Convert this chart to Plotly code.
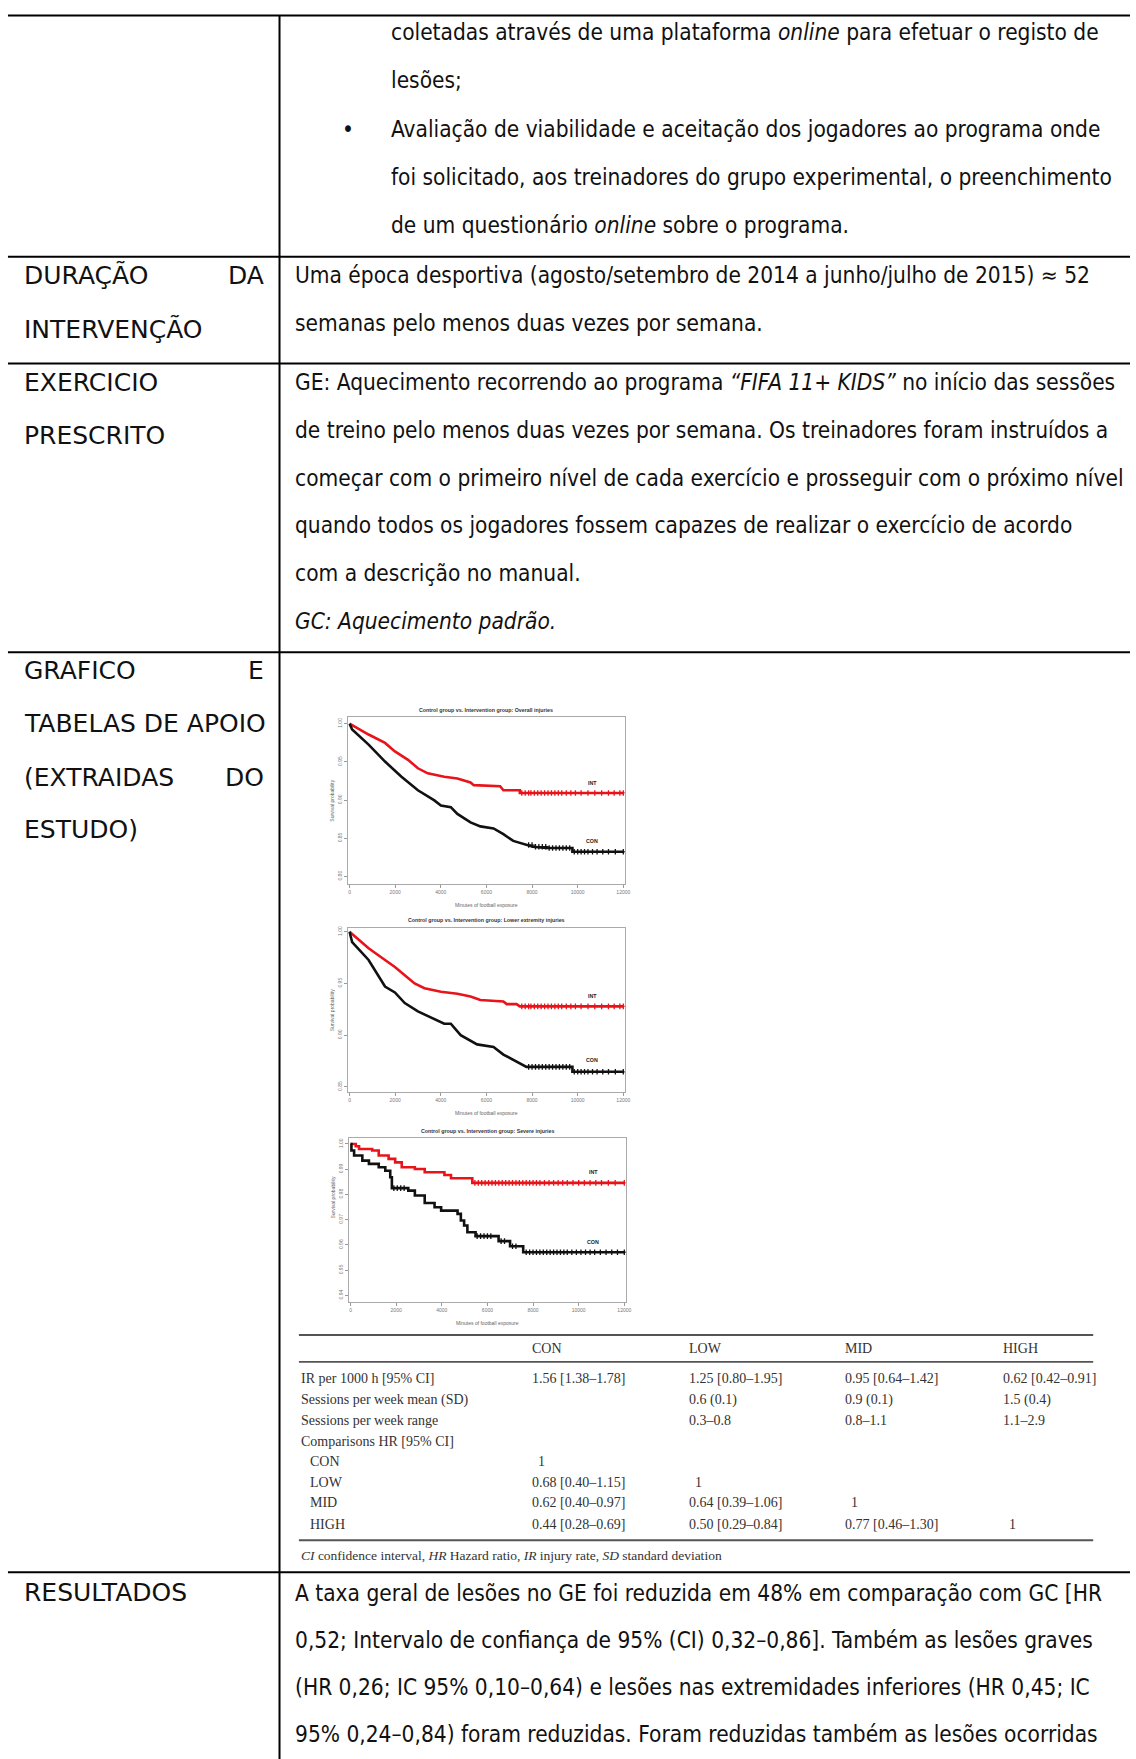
import plotly.graph_objects as go

W, H = 1136, 1759

# ---------------- Kaplan-Meier survival data ----------------
# time = minutes of football exposure, surv = survival probability
overall_con_t = [0, 115, 836, 1556, 2277, 2997, 3718, 4006, 4439, 4727, 5303, 5735, 6312, 6744, 7176, 7753, 8041, 8617, 9770, 9770, 12000]
overall_con_s = [1.0, 0.9925, 0.9726, 0.9504, 0.9305, 0.9128, 0.8996, 0.8929, 0.8907, 0.8819, 0.8708, 0.8655, 0.8628, 0.8553, 0.8465, 0.8411, 0.8389, 0.8372, 0.8372, 0.8323, 0.8323]
overall_int_t = [0, 836, 1556, 1989, 2565, 2997, 3430, 4150, 4727, 5303, 5447, 6600, 6744, 7464, 7464, 12000]
overall_int_s = [1.0, 0.9858, 0.9748, 0.9637, 0.9527, 0.9416, 0.9350, 0.9305, 0.9283, 0.9230, 0.9195, 0.9181, 0.9128, 0.9128, 0.9093, 0.9093]

lower_con_t = [0, 115, 836, 1556, 1989, 2421, 2997, 3718, 4150, 4439, 4871, 5591, 6312, 6744, 7176, 7753, 9770, 9770, 12000]
lower_con_s = [1.0, 0.990, 0.9727, 0.947, 0.9413, 0.931, 0.923, 0.9156, 0.911, 0.911, 0.900, 0.891, 0.8886, 0.8812, 0.8758, 0.8693, 0.8693, 0.8645, 0.8645]
lower_int_t = [0, 836, 1556, 1989, 2421, 2853, 3285, 4006, 4727, 5303, 5735, 6744, 6888, 7320, 7464, 12000]
lower_int_s = [1.0, 0.984, 0.9727, 0.966, 0.958, 0.950, 0.9454, 0.942, 0.940, 0.9374, 0.934, 0.9326, 0.930, 0.930, 0.9278, 0.9278]

severe_con_t = [0, 40, 158, 518, 806, 1237, 1525, 1741, 1813, 2533, 2820, 3252, 3684, 3972, 4691, 4835, 4979, 5122, 5482, 6490, 6993, 7569, 12000]
severe_con_s = [1.0, 0.9974, 0.9954, 0.9934, 0.9921, 0.9908, 0.9894, 0.9868, 0.9825, 0.9815, 0.9796, 0.9766, 0.9749, 0.9736, 0.9723, 0.9697, 0.9677, 0.9650, 0.9635, 0.9615, 0.9595, 0.9571, 0.9571]
severe_int_t = [0, 230, 374, 950, 1237, 1669, 1957, 2245, 2820, 3252, 4115, 4403, 5338, 12000]
severe_int_s = [1.0, 0.9991, 0.998, 0.9974, 0.9954, 0.9941, 0.9927, 0.9908, 0.9901, 0.9888, 0.9877, 0.9864, 0.9846, 0.9846]

# censoring times (minutes)
overall_con_cens = [7850, 8000, 8150, 8300, 8450, 8600, 8750, 8900, 9050, 9200, 9350, 9500, 9650, 9850, 10000, 10150, 10300, 10450, 10650, 10850, 11100, 11350, 11650, 12000]
overall_int_cens = [7550, 7700, 7850, 7950, 8100, 8250, 8400, 8550, 8700, 8850, 9000, 9150, 9300, 9500, 9700, 9900, 10150, 10450, 10750, 11050, 11350, 11600, 11850, 12000]
lower_con_cens = [7850, 8000, 8150, 8300, 8450, 8600, 8750, 8900, 9050, 9200, 9350, 9500, 9650, 9850, 10000, 10150, 10300, 10450, 10650, 10850, 11100, 11350, 11650, 12000]
lower_int_cens = [7550, 7700, 7850, 7950, 8100, 8250, 8400, 8550, 8700, 8850, 9000, 9150, 9300, 9500, 9700, 9900, 10150, 10450, 10750, 11050, 11350, 11600, 11850, 12000]
severe_con_cens = [1900, 2050, 2200, 2350, 5550, 5700, 5850, 6000, 6150, 6600, 6750, 7100, 7250, 7700, 7850, 8000, 8150, 8300, 8450, 8600, 8750, 8900, 9050, 9200, 9350, 9500, 9700, 9900, 10100, 10300, 10500, 10700, 10950, 11200, 11450, 11700, 12000]
severe_int_cens = [5450, 5600, 5750, 5900, 6050, 6200, 6350, 6500, 6650, 6800, 6950, 7100, 7250, 7400, 7550, 7700, 7850, 8000, 8150, 8300, 8500, 8700, 8900, 9100, 9300, 9500, 9750, 10000, 10250, 10500, 10750, 11000, 11300, 11600, 12000]

x_ticks = [0, 2000, 4000, 6000, 8000, 10000, 12000]
overall_yticks = [0.80, 0.85, 0.90, 0.95, 1.00]
lower_yticks = [0.85, 0.90, 0.95, 1.00]
severe_yticks = [0.94, 0.95, 0.96, 0.97, 0.98, 0.99, 1.00]

panel_titles = [
    "Control group vs. Intervention group: Overall injuries",
    "Control group vs. Intervention group: Lower extremity injuries",
    "Control group vs. Intervention group: Severe injuries",
]

# ---------------- Summary table ----------------
tbl_cols = ["CON", "LOW", "MID", "HIGH"]
tbl_rows = ["IR per 1000 h [95% CI]", "Sessions per week mean (SD)", "Sessions per week range",
            "Comparisons HR [95% CI]", "CON", "LOW", "MID", "HIGH"]
tbl_con = ["1.56 [1.38\u20131.78]", "", "", "", "1", "0.68 [0.40\u20131.15]", "0.62 [0.40\u20130.97]", "0.44 [0.28\u20130.69]"]
tbl_low = ["1.25 [0.80\u20131.95]", "0.6 (0.1)", "0.3\u20130.8", "", "", "1", "0.64 [0.39\u20131.06]", "0.50 [0.29\u20130.84]"]
tbl_mid = ["0.95 [0.64\u20131.42]", "0.9 (0.1)", "0.8\u20131.1", "", "", "", "1", "0.77 [0.46\u20131.30]"]
tbl_high = ["0.62 [0.42\u20130.91]", "1.5 (0.4)", "1.1\u20132.9", "", "", "", "", "1"]
tbl_note = "<i>CI</i> confidence interval, <i>HR</i> Hazard ratio, <i>IR</i> injury rate, <i>SD</i> standard deviation"

# ---------------- Document text ----------------
row0_right = [
    "coletadas através de uma plataforma <i>online</i> para efetuar o registo de",
    "lesões;",
    "Avaliação de viabilidade e aceitação dos jogadores ao programa onde",
    "foi solicitado, aos treinadores do grupo experimental, o preenchimento",
    "de um questionário <i>online</i> sobre o programa.",
]
dur_right = [
    "Uma época desportiva (agosto/setembro de 2014 a junho/julho de 2015) \u2248 52",
    "semanas pelo menos duas vezes por semana.",
]
ex_right = [
    "GE: Aquecimento recorrendo ao programa <i>\u201cFIFA 11+ KIDS\u201d</i> no início das sessões",
    "de treino pelo menos duas vezes por semana. Os treinadores foram instruídos a",
    "começar com o primeiro nível de cada exercício e prosseguir com o próximo nível",
    "quando todos os jogadores fossem capazes de realizar o exercício de acordo",
    "com a descrição no manual.",
    "<i>GC: Aquecimento padrão.</i>",
]
res_right = [
    "A taxa geral de lesões no GE foi reduzida em 48% em comparação com GC [HR",
    "0,52; Intervalo de confiança de 95% (CI) 0,32\u20130,86]. Também as lesões graves",
    "(HR 0,26; IC 95% 0,10\u20130,64) e lesões nas extremidades inferiores (HR 0,45; IC",
    "95% 0,24\u20130,84) foram reduzidas. Foram reduzidas também as lesões ocorridas",
]


def fx(px):
    return px / W


def fy(py):
    return 1 - py / H


def surv_at(times, survs, t):
    val = survs[0]
    for ti, si in zip(times, survs):
        if ti <= t:
            val = si
    return val


BODY_FONT = "DejaVu Sans Condensed, Liberation Sans Narrow, sans-serif"
HEAD_FONT = "DejaVu Sans, sans-serif"
SERIF = "Liberation Serif, Times New Roman, serif"
PLOT_FONT = "Liberation Sans, Arial, sans-serif"

fig = go.Figure()
annotations = []
shapes = []


def text(x, y, s, size=22.5, anchor="left", font=BODY_FONT, color="#111"):
    annotations.append(dict(x=fx(x), y=fy(y), xref="paper", yref="paper", text=s,
                            showarrow=False, xanchor=anchor, yanchor="middle",
                            font=dict(family=font, size=size, color=color)))


def hline(x0, x1, y, width=2, color="#000"):
    shapes.append(dict(type="line", xref="paper", yref="paper", x0=fx(x0), x1=fx(x1),
                       y0=fy(y), y1=fy(y), line=dict(color=color, width=width)))


# ruling of the document table
for yy in [13.5, 255, 362, 651, 1572]:
    hline(8, 1136, yy)
shapes.append(dict(type="line", xref="paper", yref="paper", x0=fx(281), x1=fx(281),
                   y0=fy(13.5), y1=fy(1759), line=dict(color="#000", width=2)))

LX, LR, RX = 22, 267, 295
LSIZE, RSIZE = 25, 22.5


def head(x, y, s, anchor="left"):
    text(x, y, s, LSIZE, anchor=anchor, font=HEAD_FONT)


# row 0
for s, yy in zip(row0_right, [30.3, 78.5, 126.7, 175, 223]):
    text(391, yy, s, RSIZE)
text(350, 126.7, "\u2022", RSIZE, anchor="center")

# duration row
head(LX, 273.6, "DURAÇÃO")
head(LR, 273.6, "DA", anchor="right")
head(LX, 327, "INTERVENÇÃO")
for s, yy in zip(dur_right, [273.6, 321.8]):
    text(RX, yy, s, RSIZE)

# exercise row
head(LX, 381.3, "EXERCICIO")
head(LX, 434, "PRESCRITO")
for s, yy in zip(ex_right, [380, 428.4, 476.6, 523.7, 572, 620]):
    text(RX, yy, s, RSIZE)

# figures row
head(LX, 669.5, "GRAFICO")
head(LR, 669.5, "E", anchor="right")
head(LX, 722, "TABELAS DE APOIO")
head(LX, 776, "(EXTRAIDAS")
head(LR, 776, "DO", anchor="right")
head(LX, 828.7, "ESTUDO)")

# results row
head(LX, 1592.4, "RESULTADOS")
for s, yy in zip(res_right, [1592.4, 1639.5, 1686.6, 1733.7]):
    text(RX, yy, s, RSIZE)

# ---------------- survival panels ----------------
panels = [
    dict(con=(overall_con_t, overall_con_s), int=(overall_int_t, overall_int_s),
         ccens=overall_con_cens, icens=overall_int_cens, yticks=overall_yticks,
         yr=[0.7905, 1.0085], box=(350, 716, 628, 882.7), shape="linear",
         int_lab=0.9228, con_lab=0.846),
    dict(con=(lower_con_t, lower_con_s), int=(lower_int_t, lower_int_s),
         ccens=lower_con_cens, icens=lower_int_cens, yticks=lower_yticks,
         yr=[0.8445, 1.004], box=(350, 926.7, 628, 1091.7), shape="linear",
         int_lab=0.9383, con_lab=0.8757),
    dict(con=(severe_con_t, severe_con_s), int=(severe_int_t, severe_int_s),
         ccens=severe_con_cens, icens=severe_int_cens, yticks=severe_yticks,
         yr=[0.9373, 1.0022], box=(351, 1137.7, 629, 1301.7), shape="hv",
         int_lab=0.989, con_lab=0.9611),
]

layout_axes = {}
for k, p in enumerate(panels):
    n = "" if k == 0 else str(k + 1)
    xa, ya = "x" + n, "y" + n
    x0, y0, x1, y1 = p["box"]
    for (t, s), color in [(p["int"], "#e8141a"), (p["con"], "#111111")]:
        fig.add_trace(go.Scatter(x=t, y=s, mode="lines", xaxis=xa, yaxis=ya,
                                 line=dict(color=color, width=2.6, shape=p["shape"]),
                                 showlegend=False, hoverinfo="skip"))
    for cens, (t, s), color in [(p["icens"], p["int"], "#e8141a"), (p["ccens"], p["con"], "#111111")]:
        fig.add_trace(go.Scatter(x=cens, y=[surv_at(t, s, c) for c in cens], mode="markers",
                                 xaxis=xa, yaxis=ya, showlegend=False, hoverinfo="skip",
                                 marker=dict(symbol="cross-thin", size=4, color=color,
                                             line=dict(color=color, width=1.3))))
    layout_axes["xaxis" + n] = dict(domain=[fx(x0), fx(x1)], range=[-60, 12060], anchor=ya,
                                    tickvals=x_ticks, ticktext=[str(v) for v in x_ticks],
                                    ticks="outside", ticklen=3, tickcolor="#999",
                                    tickfont=dict(size=5, color="#777", family=PLOT_FONT),
                                    showline=True, linecolor="#aaa", linewidth=1, mirror=True,
                                    showgrid=False, zeroline=False)
    layout_axes["yaxis" + n] = dict(domain=[fy(y1), fy(y0)], range=p["yr"], anchor=xa,
                                    tickvals=p["yticks"], tickformat=".2f", tickangle=-90,
                                    ticks="outside", ticklen=3, tickcolor="#999",
                                    tickfont=dict(size=5, color="#777", family=PLOT_FONT),
                                    showline=True, linecolor="#aaa", linewidth=1, mirror=True,
                                    showgrid=False, zeroline=False)
    # panel title and axis titles
    text((x0 + x1) / 2, y0 - 7.5, "<b>" + panel_titles[k] + "</b>", 5.3, anchor="center",
         font=PLOT_FONT, color="#333")
    text((x0 + x1) / 2, y1 + 21, "Minutes of football exposure", 5, anchor="center",
         font=PLOT_FONT, color="#666")
    annotations.append(dict(x=fx(x0 - 21), y=fy((y0 + y1) / 2), xref="paper", yref="paper",
                            text="Survival probability", showarrow=False, textangle=-90,
                            font=dict(family=PLOT_FONT, size=5, color="#666")))
    annotations.append(dict(x=10634, y=p["int_lab"], xref=xa, yref=ya, text="<b>INT</b>",
                            showarrow=False, font=dict(family=PLOT_FONT, size=5.3, color="#222")))
    annotations.append(dict(x=10634, y=p["con_lab"], xref=xa, yref=ya, text="<b>CON</b>",
                            showarrow=False, font=dict(family=PLOT_FONT, size=5.3, color="#222")))

# ---------------- summary table ----------------
TCOL = "#333"
TS = 14
hline(300.5, 1099, 1334.5, width=1.8, color="#555")
hline(300.5, 1099, 1361.5, width=1.8, color="#555")
hline(300.5, 1099, 1540, width=1.8, color="#555")
col_x = [532.7, 690.8, 847.8, 1005.9]
for cx, c in zip(col_x, tbl_cols):
    text(cx, 1348, c, TS, font=SERIF, color=TCOL)
row_y = [1378, 1399.5, 1419.7, 1441, 1461, 1482.5, 1502.7, 1524]
for i, (lbl, yy) in enumerate(zip(tbl_rows, row_y)):
    text(309.5 if i >= 4 else 300.5, yy, lbl, TS, font=SERIF, color=TCOL)
    for cx, col in zip(col_x, [tbl_con, tbl_low, tbl_mid, tbl_high]):
        v = col[i]
        if v:
            text(cx + (6 if v == "1" else 0), yy, v, TS, font=SERIF, color=TCOL)
text(300.5, 1555.4, tbl_note, 13.5, font=SERIF, color=TCOL)

fig.update_layout(width=W, height=H, margin=dict(l=0, r=0, t=0, b=0, pad=0),
                  paper_bgcolor="white", plot_bgcolor="white", autosize=False,
                  annotations=annotations, shapes=shapes, **layout_axes)

fig.write_html("out.html")
